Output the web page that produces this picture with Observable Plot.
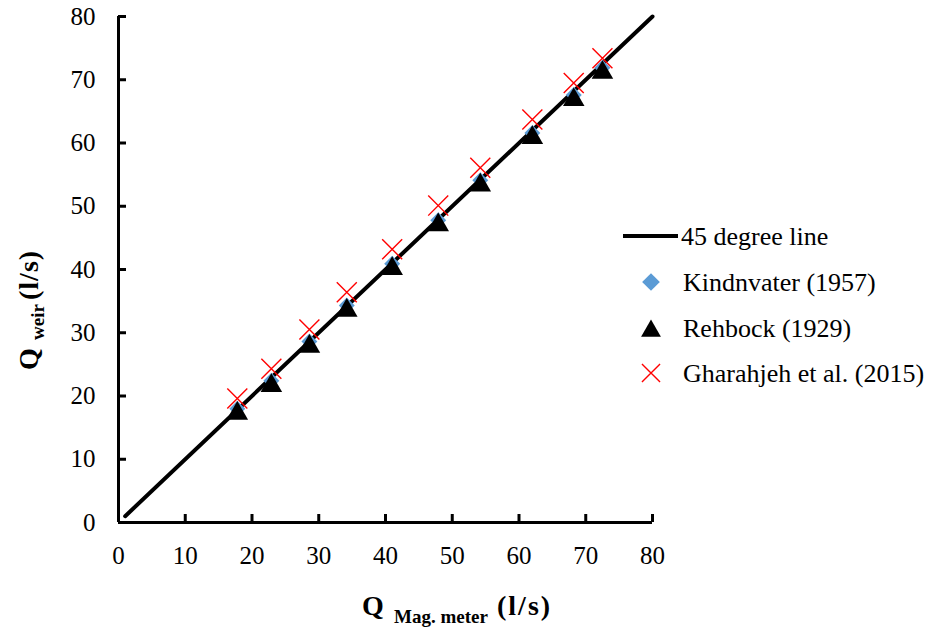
<!DOCTYPE html>
<html>
<head>
<meta charset="utf-8">
<script src="https://cdn.jsdelivr.net/npm/d3@7"></script>
<script src="https://cdn.jsdelivr.net/npm/@observablehq/plot@0.6"></script>
<style>
html, body { margin: 0; padding: 0; background: #fff; }
#chart svg { display: block; }
</style>
</head>
<body>
<div id="chart"></div>
<script>
// ---- data ----
const qMagMeter  = [17.8, 22.9, 28.6, 34.2, 41.0, 47.9, 54.2, 62.0, 68.2, 72.5];
const kindsvater = [18.0, 22.4, 28.6, 34.3, 40.9, 47.8, 54.1, 61.6, 67.6, 71.9];
const rehbock    = [17.7, 22.1, 28.3, 34.0, 40.6, 47.5, 53.8, 61.3, 67.3, 71.6];
const gharahjeh  = [19.6, 24.3, 30.5, 36.4, 43.2, 50.1, 56.1, 63.7, 69.5, 73.4];
const lineX = [1, 80];
const lineY = [1, 80];
const xTicks = [0, 10, 20, 30, 40, 50, 60, 70, 80];
const yTicks = [0, 10, 20, 30, 40, 50, 60, 70, 80];
const legendLabels = ["45 degree line", "Kindnvater (1957)", "Rehbock (1929)", "Gharahjeh et al. (2015)"];
const xTitle = ["Q", "Mag. meter", "(l/s)"];
const yTitle = ["Q", "weir", "(l/s)"];

const points = qMagMeter.map((x, i) => ({x, kind: kindsvater[i], reh: rehbock[i], ghar: gharahjeh[i]}));
const lineData = lineX.map((x, i) => ({x, y: lineY[i]}));

const serif = "'Liberation Serif', 'Times New Roman', 'DejaVu Serif', serif";

const chart = Plot.plot({
  width: 932,
  height: 632,
  marginLeft: 118,
  marginRight: 280,
  marginTop: 16,
  marginBottom: 110,
  style: {fontFamily: serif, fontSize: "25px", color: "#000", background: "#fff", overflow: "visible"},
  x: {domain: [0, 80]},
  y: {domain: [0, 80]},
  marks: [
    Plot.axisX({ticks: xTicks, tickSize: -8, tickPadding: 32, strokeWidth: 3, label: null, tickFormat: d => d, fontSize: 25}),
    Plot.axisY({ticks: yTicks, tickSize: -8, tickPadding: 31, strokeWidth: 3, label: null, tickFormat: d => d, fontSize: 25}),
    Plot.ruleX([0], {strokeWidth: 3, stroke: "#000"}),
    Plot.ruleY([0], {strokeWidth: 3, stroke: "#000"}),
    Plot.line(lineData, {x: "x", y: "y", stroke: "#000", strokeWidth: 4}),
    Plot.dot(points, {x: "x", y: "kind", symbol: "diamond2", r: 7.2, fill: "#5B9BD5"}),
    Plot.dot(points, {x: "x", y: "reh", symbol: "triangle", r: 8, fill: "#000", dy: 3}),
    Plot.dot(points, {x: "x", y: "ghar", symbol: "times", r: 9.15, stroke: "#FF0000", strokeWidth: 1.4})
  ]
});

document.getElementById("chart").appendChild(chart);

const svg = d3.select(chart);

// x title
const xt = svg.append("text")
  .attr("y", 615).attr("text-anchor", "start")
  .attr("font-family", serif).attr("font-weight", "bold").attr("font-size", 28).attr("fill", "#000");
xt.append("tspan").attr("x", 362).text(xTitle[0]);
xt.append("tspan").attr("x", 394).attr("font-size", 19).attr("dy", 8).text(xTitle[1]);
xt.append("tspan").attr("x", 497).attr("dy", -8).attr("letter-spacing", 2).text(xTitle[2]);

// y title
const yt = svg.append("text")
  .attr("transform", "translate(38,370) rotate(-90)").attr("text-anchor", "start")
  .attr("font-family", serif).attr("font-weight", "bold").attr("font-size", 28).attr("fill", "#000");
yt.append("tspan").attr("x", 0).text(yTitle[0]);
yt.append("tspan").attr("x", 30).attr("font-size", 19).attr("dy", 6).text(yTitle[1]);
yt.append("tspan").attr("x", 70).attr("dy", -6).attr("letter-spacing", 1).text(yTitle[2]);

// legend
const legY = [236, 282, 328, 373];
const lg = svg.append("g").attr("font-family", serif).attr("font-size", 26).attr("fill", "#000").attr("text-anchor", "start");
lg.append("line").attr("x1", 623).attr("x2", 678).attr("y1", legY[0]).attr("y2", legY[0])
  .attr("stroke", "#000").attr("stroke-width", 4);
lg.append("path").attr("transform", `translate(651,${legY[1]})`)
  .attr("d", d3.symbol(d3.symbolDiamond2, 200)()).attr("fill", "#5B9BD5");
lg.append("path").attr("transform", `translate(651,${legY[2] + 3})`)
  .attr("d", d3.symbol(d3.symbolTriangle, 170)()).attr("fill", "#000");
lg.append("path").attr("transform", `translate(651,${legY[3]})`)
  .attr("d", d3.symbol(d3.symbolTimes, 215)()).attr("fill", "none").attr("stroke", "#FF0000").attr("stroke-width", 1.4);
legendLabels.forEach((t, i) => {
  lg.append("text").attr("x", i === 0 ? 681 : 683).attr("y", legY[i]).attr("dy", "0.34em").text(t);
});
</script>
</body>
</html>
